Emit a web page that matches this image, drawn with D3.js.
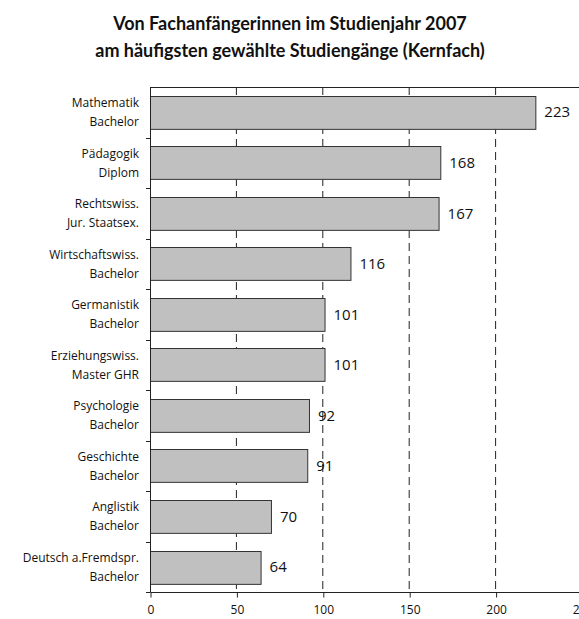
<!DOCTYPE html>
<html>
<head>
<meta charset="utf-8">
<script src="https://cdn.jsdelivr.net/npm/d3@7"></script>
<style>
  body { margin: 0; background: #fff; }
  text { font-family: "Open Sans", "DejaVu Sans", sans-serif; fill: #111; }
</style>
</head>
<body>
<svg id="chart" width="579" height="619"></svg>
<script>
var titleLines = ["Von Fachanfängerinnen im Studienjahr 2007", "am häufigsten gewählte Studiengänge (Kernfach)"];
var subjects = ["Mathematik", "Pädagogik", "Rechtswiss.", "Wirtschaftswiss.", "Germanistik",
                "Erziehungswiss.", "Psychologie", "Geschichte", "Anglistik", "Deutsch a.Fremdspr."];
var degrees = ["Bachelor", "Diplom", "Jur. Staatsex.", "Bachelor", "Bachelor",
               "Master GHR", "Bachelor", "Bachelor", "Bachelor", "Bachelor"];
var counts = [223, 168, 167, 116, 101, 101, 92, 91, 70, 64];
var xTicks = [0, 50, 100, 150, 200, 250];

var margin = { top: 87, right: -3, bottom: 27, left: 150 };
var width = 579 - margin.left - margin.right,
    height = 619 - margin.top - margin.bottom;

var svg = d3.select("#chart");

// title
svg.append("g").selectAll("text")
  .data(titleLines)
  .enter().append("text")
  .attr("x", 290)
  .attr("y", function (d, i) { return 30 + i * 27; })
  .attr("text-anchor", "middle")
  .style("font-family", "Lato, \"Open Sans\", sans-serif")
  .style("font-size", "18px")
  .style("font-weight", 700)
  .text(function (d) { return d; });

var g = svg.append("g").attr("transform", "translate(" + margin.left + "," + margin.top + ")");

var x = d3.scaleLinear().domain([0, 250]).range([0, width]);
var y = d3.scaleBand().domain(d3.range(subjects.length)).range([0, height]).paddingInner(0.35).paddingOuter(0.17);

// dashed grid
g.selectAll(".grid")
  .data(xTicks.slice(1, 5))
  .enter().append("line")
  .attr("x1", function (d) { return x(d); })
  .attr("x2", function (d) { return x(d); })
  .attr("y1", 0)
  .attr("y2", height)
  .attr("stroke", "#222")
  .attr("stroke-width", 1)
  .attr("stroke-dasharray", "8,5");

// top border
g.append("line")
  .attr("x1", 0).attr("x2", 579 - margin.left)
  .attr("y1", 0.5).attr("y2", 0.5)
  .attr("stroke", "#222");

// bars
g.selectAll(".bar")
  .data(counts)
  .enter().append("rect")
  .attr("x", 0.5)
  .attr("y", function (d, i) { return Math.round(y(i)) + 0.5; })
  .attr("width", function (d) { return x(d); })
  .attr("height", y.bandwidth())
  .attr("fill", "#c0c0c0")
  .attr("stroke", "#333")
  .attr("stroke-width", 1);

// value labels
g.selectAll(".val")
  .data(counts)
  .enter().append("text")
  .attr("x", function (d) { return x(d) + 9; })
  .attr("y", function (d, i) { return y(i) + y.bandwidth() / 2; })
  .attr("dy", "0.36em")
  .style("font-size", "15px")
  .text(function (d) { return d; });

// category labels (two lines)
var lab = g.selectAll(".lab")
  .data(subjects)
  .enter().append("text")
  .attr("text-anchor", "end")
  .style("font-size", "12px");
lab.append("tspan")
  .attr("x", -11)
  .attr("y", function (d, i) { return y(i) + y.bandwidth() / 2 - 5; })
  .text(function (d) { return d; });
lab.append("tspan")
  .attr("x", -11)
  .attr("y", function (d, i) { return y(i) + y.bandwidth() / 2 + 14; })
  .text(function (d, i) { return degrees[i]; });

// left axis with ticks between bands
var step = height / subjects.length;
g.append("line")
  .attr("x1", 0.5).attr("x2", 0.5)
  .attr("y1", 0).attr("y2", height)
  .attr("stroke", "#222");
g.selectAll(".ytick")
  .data(d3.range(1, subjects.length + 1))
  .enter().append("line")
  .attr("x1", -4).attr("x2", 0.5)
  .attr("y1", function (d) { return Math.round(d * step) + 0.5; })
  .attr("y2", function (d) { return Math.round(d * step) + 0.5; })
  .attr("stroke", "#222");

// bottom axis
var xAxis = d3.axisBottom(x).tickValues(xTicks).tickSize(5).tickPadding(8);
var ax = g.append("g")
  .attr("transform", "translate(0.5," + (height + 0.5) + ")")
  .call(xAxis);
ax.select(".domain").attr("d", "M0,0H" + (579 - margin.left)).attr("stroke", "#222");
ax.selectAll(".tick line").attr("stroke", "#222");
ax.selectAll(".tick text")
  .style("font-family", "\"Open Sans\", sans-serif")
  .style("font-size", "12px")
  .attr("fill", "#111");
</script>
</body>
</html>
